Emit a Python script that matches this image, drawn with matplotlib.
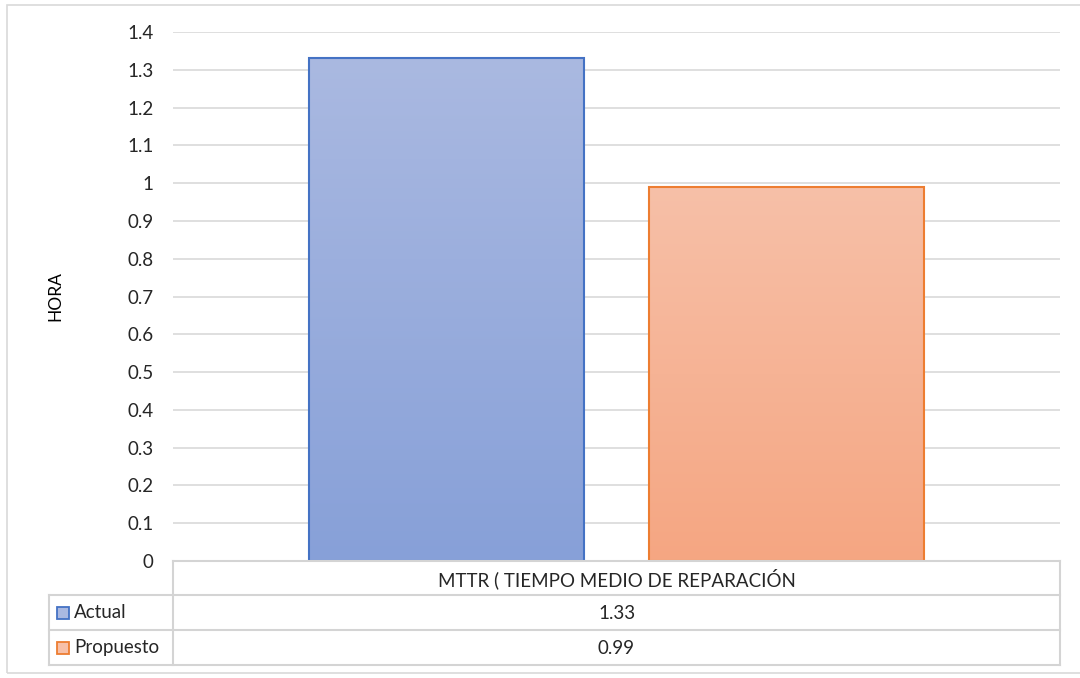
import numpy as np
import matplotlib.pyplot as plt
from matplotlib.colors import LinearSegmentedColormap
from matplotlib.lines import Line2D
from matplotlib.patches import Rectangle

plt.rcParams['font.family'] = ['Lato', 'DejaVu Sans']

category = "MTTR ( TIEMPO MEDIO DE REPARACIÓN"
series = ["Actual", "Propuesto"]
values = [1.33, 0.99]
value_labels = ["1.33", "0.99"]
yticks = [0, 0.1, 0.2, 0.3, 0.4, 0.5, 0.6, 0.7, 0.8, 0.9, 1, 1.1, 1.2, 1.3, 1.4]
ytick_labels = ["0", "0.1", "0.2", "0.3", "0.4", "0.5", "0.6", "0.7", "0.8", "0.9",
                "1", "1.1", "1.2", "1.3", "1.4"]

edge_colors = ["#4472c4", "#ed7d31"]
grad_top = ["#aab9e1", "#f7c0a8"]
grad_bottom = ["#87a0d8", "#f5a682"]

W, H = 1080, 678
fig = plt.figure(figsize=(W / 100, H / 100), dpi=100)


def fx(px):
    return px / W


def fy(py):
    return 1 - py / H


# outer chart border
fig.add_artist(Rectangle((fx(7), fy(673)), fx(1090) - fx(7), fy(5) - fy(673),
                         transform=fig.transFigure, fill=False,
                         edgecolor="#d9d9d9", lw=1.2))

left, right, top, bottom = 173, 1060, 32, 561
ax = fig.add_axes([fx(left), fy(bottom), fx(right) - fx(left), fy(top) - fy(bottom)])
ax.set_yticks(yticks)
ax.set_yticklabels(ytick_labels, fontsize=13.5, color="#262626")
ax.tick_params(axis="y", length=0, pad=14)
ax.set_xticks([])
for s in ax.spines.values():
    s.set_visible(False)
ax.grid(axis="y", color="#d9d9d9", lw=1.2)
ax.set_axisbelow(True)
fig.text(fx(55), fy(296), "HORA", rotation=90, ha="center", va="center",
         fontsize=12.5, color="#000000")

width = 0.31
offsets = [-0.1917, 0.1917]
for i, (v, off) in enumerate(zip(values, offsets)):
    bar = ax.bar(off, v, width=width, facecolor="none",
                 edgecolor=edge_colors[i], lw=1.5, zorder=3)[0]
    cmap = LinearSegmentedColormap.from_list("g%d" % i, [grad_bottom[i], grad_top[i]])
    grad = np.linspace(0, 1, 256).reshape(-1, 1)
    im = ax.imshow(grad, cmap=cmap, aspect="auto", origin="lower",
                   extent=[off - width / 2, off + width / 2, 0, v], zorder=2)
    im.set_clip_path(bar)
ax.set_xlim(-0.5, 0.5)
ax.set_ylim(0, 1.4)

# data table below the plot
tcol = "#d4d4d4"
rows_y = [561, 595, 630, 665]
label_left = 49


def hline(x0, x1, y):
    fig.add_artist(Line2D([fx(x0), fx(x1)], [fy(y), fy(y)], transform=fig.transFigure,
                          color=tcol, lw=1.5))


def vline(x, y0, y1):
    fig.add_artist(Line2D([fx(x), fx(x)], [fy(y0), fy(y1)], transform=fig.transFigure,
                          color=tcol, lw=1.5))


hline(left, right, rows_y[0])
for y in rows_y[1:]:
    hline(label_left, right, y)
vline(left, rows_y[0], rows_y[3])
vline(right, rows_y[0], rows_y[3])
vline(label_left, rows_y[1], rows_y[3])

cx = (left + right) / 2
fig.text(fx(cx), fy((rows_y[0] + rows_y[1]) / 2 + 1), category, ha="center", va="center",
         fontsize=13.5, color="#262626")
for i in range(2):
    yc = (rows_y[i + 1] + rows_y[i + 2]) / 2
    fig.text(fx(cx), fy(yc + 1), value_labels[i], ha="center", va="center",
             fontsize=13.5, color="#262626")
    fig.add_artist(Rectangle((fx(57), fy(yc + 6)), fx(12), fy(0) - fy(12),
                             transform=fig.transFigure, facecolor=grad_top[i],
                             edgecolor=edge_colors[i], lw=1.3))
    fig.text(fx(74), fy(yc), series[i], ha="left", va="center",
             fontsize=13.5, color="#262626")

fig.savefig("out.png", dpi=100)
